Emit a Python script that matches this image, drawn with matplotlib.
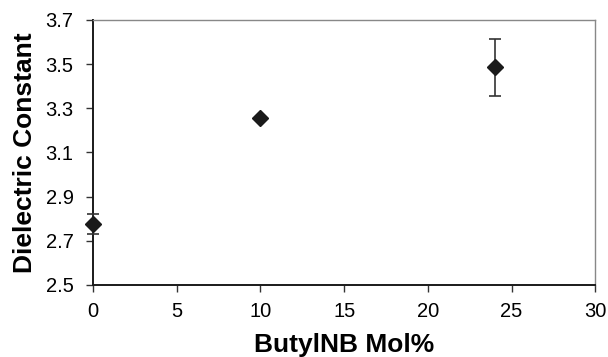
import matplotlib
matplotlib.use("Agg")
import matplotlib.pyplot as plt

# data
mol_pct = [0, 10, 24]
dielectric = [2.775, 3.255, 3.485]
err = [0.045, 0.0, 0.13]

x_ticks = [0, 5, 10, 15, 20, 25, 30]
y_ticks = [2.5, 2.7, 2.9, 3.1, 3.3, 3.5, 3.7]

plt.rcParams['font.family'] = ['Liberation Sans', 'DejaVu Sans']

fig = plt.figure(figsize=(6.08, 3.57), dpi=100)
ax = fig.add_axes([0.153, 0.202, 0.826, 0.742])

ax.errorbar(mol_pct, dielectric, yerr=err, fmt='D', color='#1a1a1a',
            markersize=8, ecolor='#333333', elinewidth=1.2, capsize=4.5,
            capthick=1.2, clip_on=False, zorder=3)

ax.set_xlim(0, 30)
ax.set_ylim(2.5, 3.7)
ax.set_xticks(x_ticks)
ax.set_yticks(y_ticks)
ax.set_yticklabels([f"{v:.1f}" for v in y_ticks])
ax.tick_params(direction='out', length=5, width=1.0, labelsize=14.5, color='#333333')
ax.tick_params(axis='x', pad=7)
ax.tick_params(axis='y', pad=9)

for side in ['left', 'bottom']:
    ax.spines[side].set_color('#1a1a1a')
    ax.spines[side].set_linewidth(1.4)
for side in ['top', 'right']:
    ax.spines[side].set_color('#888888')
    ax.spines[side].set_linewidth(1.0)

ax.set_xlabel('ButylNB Mol%', fontsize=19, fontweight='bold', labelpad=9)
ax.set_ylabel('Dielectric Constant', fontsize=19, fontweight='bold', labelpad=6)

fig.savefig('out.png', dpi=100)
